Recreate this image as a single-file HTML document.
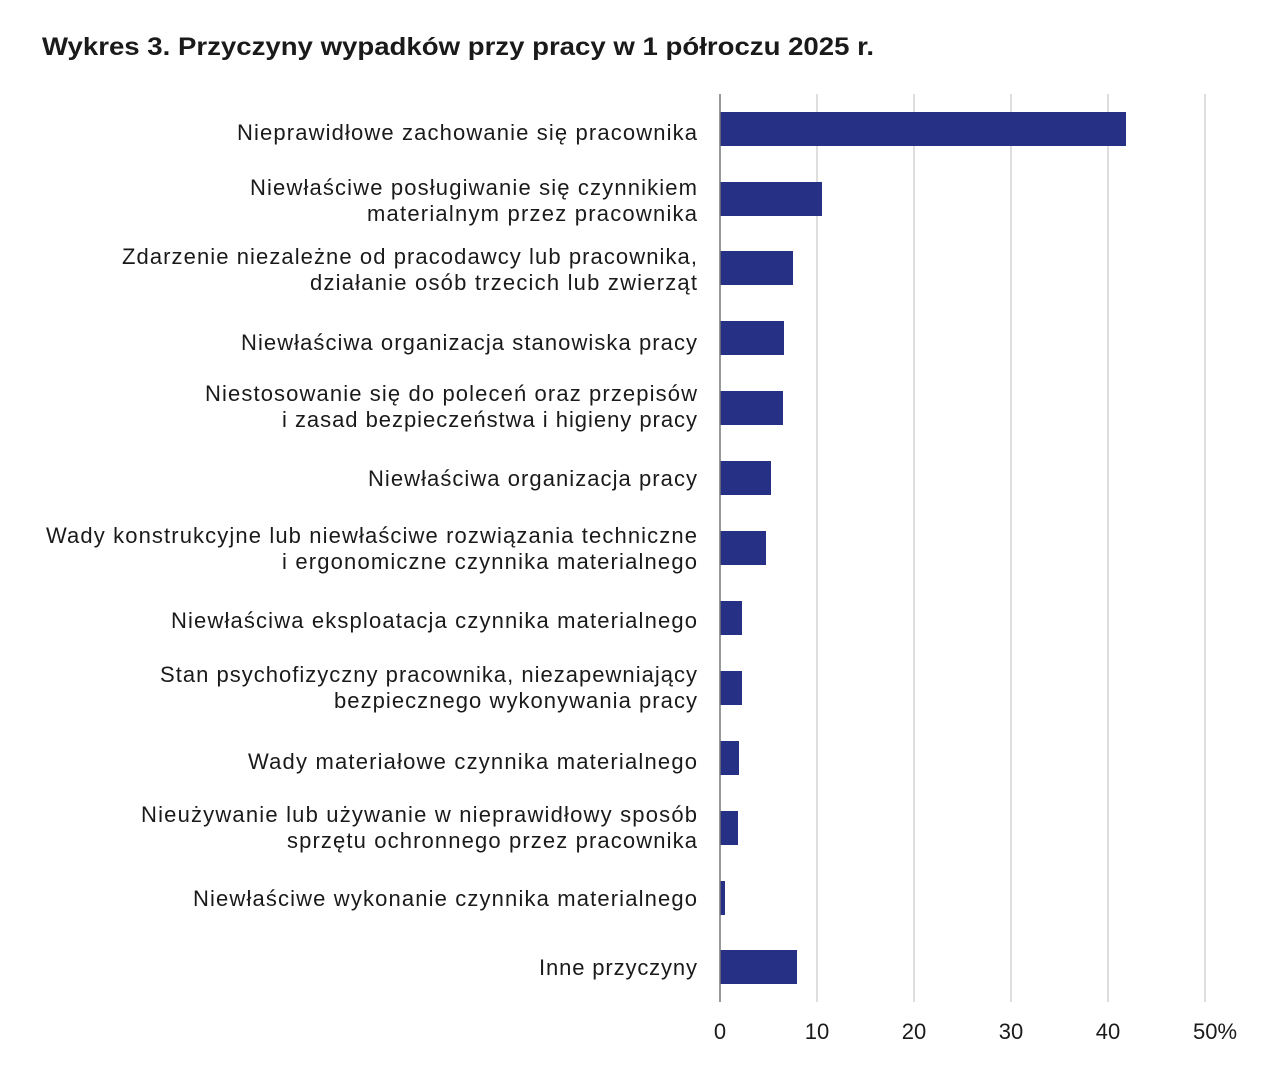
<!DOCTYPE html>
<html><head><meta charset="utf-8"><style>
html,body{margin:0;padding:0;background:#fff;}
svg{display:block;}
text{font-family:"Liberation Sans",sans-serif;fill:#1a1a1a;}
</style></head><body>
<svg width="1282" height="1080" viewBox="0 0 1282 1080">
<rect width="1282" height="1080" fill="#fff"/>
<text x="42" y="55" font-size="25" font-weight="bold" fill="#111" textLength="832" lengthAdjust="spacingAndGlyphs">Wykres 3. Przyczyny wypadków przy pracy w 1 półroczu 2025 r.</text>
<g stroke="#c8c8c8" stroke-width="1.2">
<line x1="817" y1="94" x2="817" y2="1002"/>
<line x1="914" y1="94" x2="914" y2="1002"/>
<line x1="1011" y1="94" x2="1011" y2="1002"/>
<line x1="1108" y1="94" x2="1108" y2="1002"/>
<line x1="1205" y1="94" x2="1205" y2="1002"/>
</g>
<g fill="#263085">
<rect x="720" y="112" width="406" height="34"/>
<rect x="720" y="182" width="102" height="34"/>
<rect x="720" y="251" width="73" height="34"/>
<rect x="720" y="321" width="64" height="34"/>
<rect x="720" y="391" width="63" height="34"/>
<rect x="720" y="461" width="51" height="34"/>
<rect x="720" y="531" width="46" height="34"/>
<rect x="720" y="601" width="22" height="34"/>
<rect x="720" y="671" width="22" height="34"/>
<rect x="720" y="741" width="19" height="34"/>
<rect x="720" y="811" width="18" height="34"/>
<rect x="720" y="881" width="5" height="34"/>
<rect x="720" y="950" width="77" height="34"/>
</g>
<line x1="720" y1="94" x2="720" y2="1002" stroke="#777" stroke-width="1.5"/>
<g font-size="22" lengthAdjust="spacingAndGlyphs">
<text x="237" y="140" textLength="460">Nieprawidłowe zachowanie się pracownika</text>
<text x="250" y="195" textLength="447">Niewłaściwe posługiwanie się czynnikiem</text>
<text x="367" y="221" textLength="330">materialnym przez pracownika</text>
<text x="122" y="264" textLength="575">Zdarzenie niezależne od pracodawcy lub pracownika,</text>
<text x="310" y="290" textLength="387">działanie osób trzecich lub zwierząt</text>
<text x="241" y="350" textLength="456">Niewłaściwa organizacja stanowiska pracy</text>
<text x="205" y="401" textLength="492">Niestosowanie się do poleceń oraz przepisów</text>
<text x="282" y="427" textLength="415">i zasad bezpieczeństwa i higieny pracy</text>
<text x="368" y="486" textLength="329">Niewłaściwa organizacja pracy</text>
<text x="46" y="543" textLength="651">Wady konstrukcyjne lub niewłaściwe rozwiązania techniczne</text>
<text x="282" y="569" textLength="415">i ergonomiczne czynnika materialnego</text>
<text x="171" y="628" textLength="526">Niewłaściwa eksploatacja czynnika materialnego</text>
<text x="160" y="682" textLength="537">Stan psychofizyczny pracownika, niezapewniający</text>
<text x="334" y="708" textLength="363">bezpiecznego wykonywania pracy</text>
<text x="248" y="769" textLength="449">Wady materiałowe czynnika materialnego</text>
<text x="141" y="822" textLength="556">Nieużywanie lub używanie w nieprawidłowy sposób</text>
<text x="287" y="848" textLength="410">sprzętu ochronnego przez pracownika</text>
<text x="193" y="906" textLength="504">Niewłaściwe wykonanie czynnika materialnego</text>
<text x="539" y="975" textLength="158">Inne przyczyny</text>
</g>
<g font-size="22" text-anchor="middle">
<text x="720" y="1039">0</text>
<text x="817" y="1039">10</text>
<text x="914" y="1039">20</text>
<text x="1011" y="1039">30</text>
<text x="1108" y="1039">40</text>
<text x="1215" y="1039">50%</text>
</g>
</svg>
</body></html>
